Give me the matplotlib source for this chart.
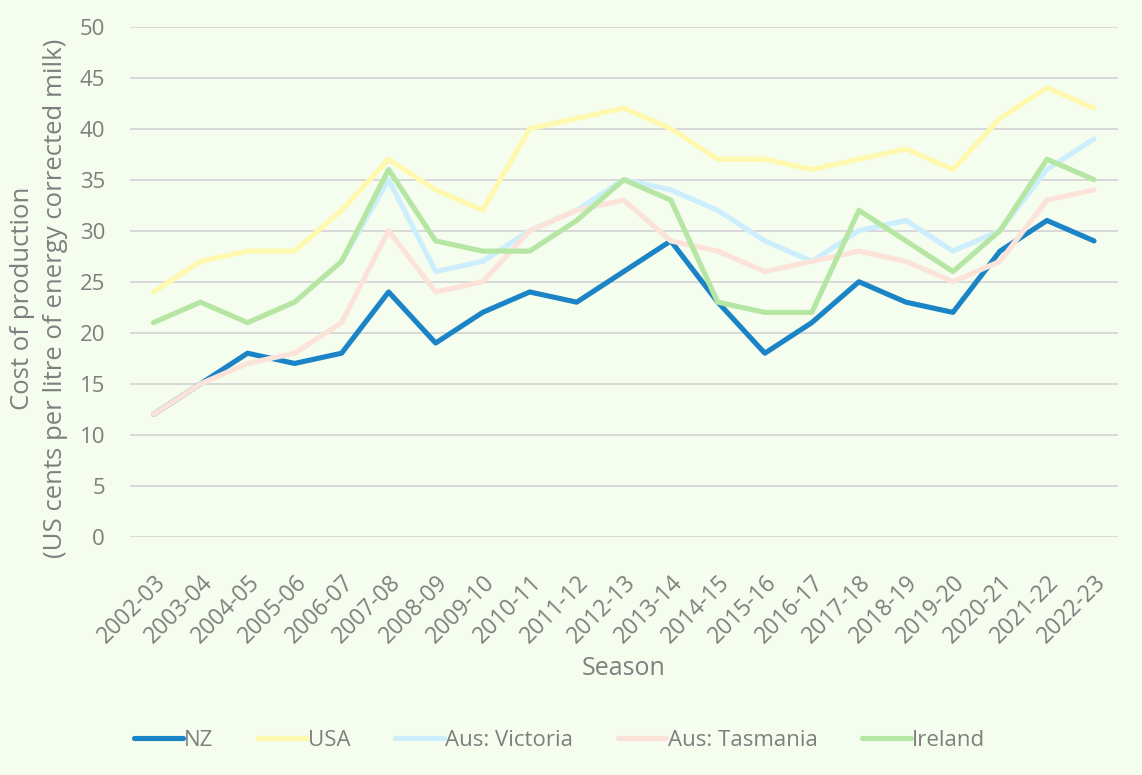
import numpy as np
import matplotlib
matplotlib.use("Agg")
import matplotlib.pyplot as plt

plt.rcParams['font.family'] = ['Open Sans', 'DejaVu Sans']

seasons = ["2002-03", "2003-04", "2004-05", "2005-06", "2006-07", "2007-08",
           "2008-09", "2009-10", "2010-11", "2011-12", "2012-13", "2013-14",
           "2014-15", "2015-16", "2016-17", "2017-18", "2018-19", "2019-20",
           "2020-21", "2021-22", "2022-23"]

nz = [12, 15, 18, 17, 18, 24, 19, 22, 24, 23, 26, 29, 23, 18, 21, 25, 23, 22, 28, 31, 29]
usa = [24, 27, 28, 28, 32, 37, 34, 32, 40, 41, 42, 40, 37, 37, 36, 37, 38, 36, 41, 44, 42]
# early Victoria years sit hidden under the Ireland line
victoria = [np.nan, np.nan, np.nan, np.nan, 27, 35, 26, 27, 30, 32, 35, 34, 32, 29, 27, 30, 31, 28, 30, 36, 39]
tasmania = [12, 15, 17, 18, 21, 30, 24, 25, 30, 32, 33, 29, 28, 26, 27, 28, 27, 25, 27, 33, 34]
ireland = [21, 23, 21, 23, 27, 36, 29, 28, 28, 31, 35, 33, 23, 22, 22, 32, 29, 26, 30, 37, 35]

bg = '#F5FDEE'
txt = '#7F7F7F'

fig = plt.figure(figsize=(11.42, 7.75), dpi=100, facecolor=bg)
ax = fig.add_axes([0.1138, 0.3071, 0.8648, 0.6587])
ax.set_facecolor(bg)

x = np.arange(len(seasons))
lw = 3.7
ax.plot(x, nz, color='#1B84C6', lw=lw, label='NZ', solid_capstyle='round', zorder=3)
ax.plot(x, usa, color='#FFF9B0', lw=lw, label='USA', solid_capstyle='round', zorder=3)
ax.plot(x, victoria, color='#CDEEFD', lw=lw, label='Aus: Victoria', solid_capstyle='round', zorder=3)
ax.plot(x, tasmania, color='#FCE3D9', lw=lw, label='Aus: Tasmania', solid_capstyle='round', zorder=3)
ax.plot(x, ireland, color='#B6E6A3', lw=lw, label='Ireland', solid_capstyle='round', zorder=3)

ax.set_xlim(-0.5, len(seasons) - 0.5)
ax.set_ylim(0, 50)
ax.set_yticks(range(0, 51, 5))
ax.set_xticks(x)
ax.set_xticklabels(seasons, rotation=45, ha='right', rotation_mode='anchor', fontsize=16.5)
ax.grid(axis='y', color='#D9D9D9', lw=1.4, zorder=0)
ax.set_axisbelow(True)
for s in ax.spines.values():
    s.set_visible(False)
ax.tick_params(length=0, colors=txt, labelsize=16)
ax.tick_params(axis='x', pad=24, labelsize=16.5)
ax.tick_params(axis='y', pad=18)

ax.set_ylabel('Cost of production\n(US cents per litre of energy corrected milk)',
              color=txt, fontsize=18.5, labelpad=8, linespacing=1.42)
ax.yaxis.label.set_y(0.468)
ax.set_xlabel('Season', color=txt, fontsize=18, labelpad=5.5)

leg = fig.legend(loc='center', bbox_to_anchor=(0.49, 0.045), ncol=5, frameon=False,
                 fontsize=16, handlelength=2.2, columnspacing=2.0, handletextpad=0.05)
for t in leg.get_texts():
    t.set_color(txt)

fig.savefig('out.png', dpi=100, facecolor=bg)
